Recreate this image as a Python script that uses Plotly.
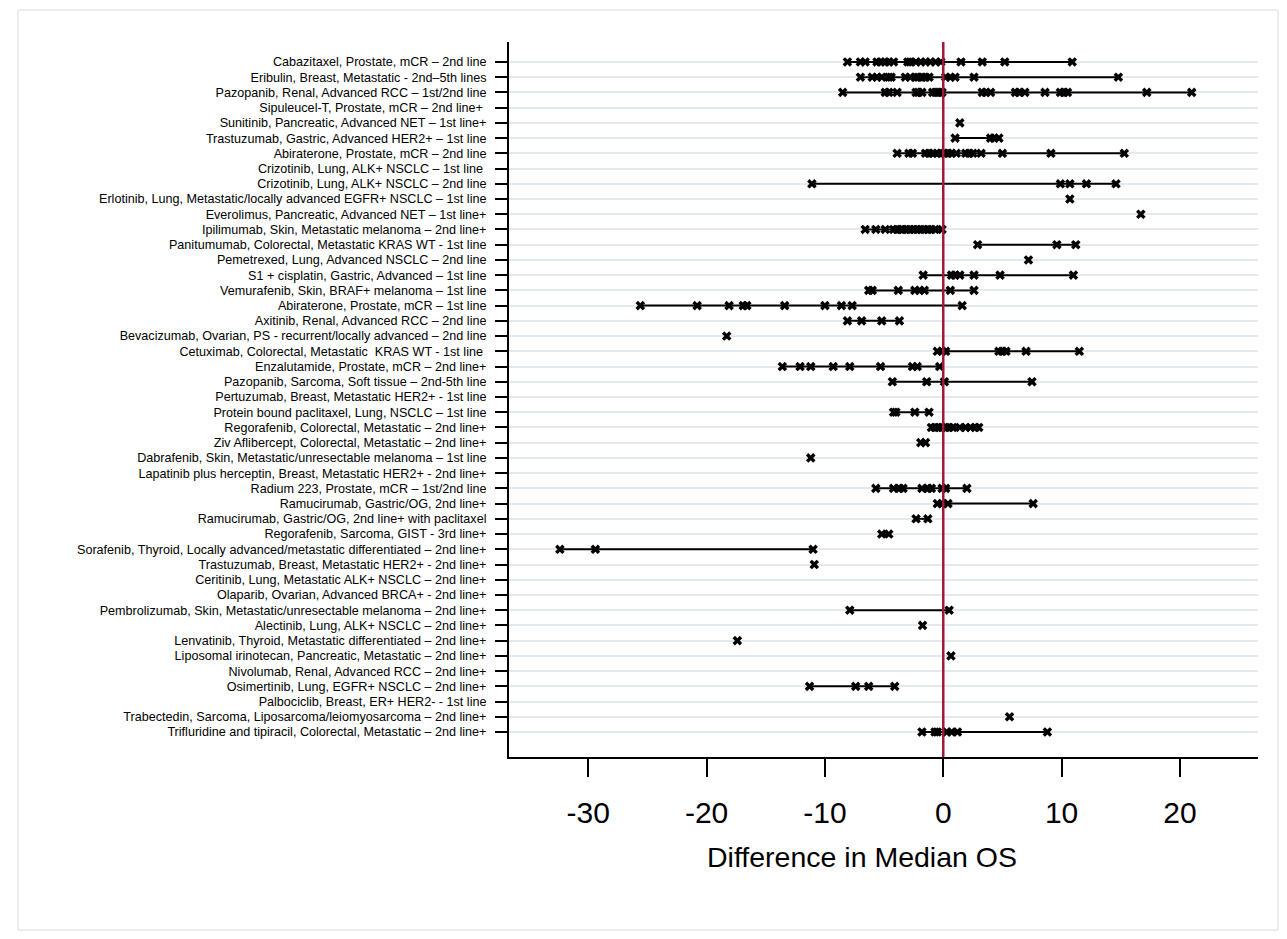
import plotly.graph_objects as go

treatments = [
    "Cabazitaxel, Prostate, mCR – 2nd line",
    "Eribulin, Breast, Metastatic - 2nd–5th lines",
    "Pazopanib, Renal, Advanced RCC – 1st/2nd line",
    "Sipuleucel-T, Prostate, mCR – 2nd line+ ",
    "Sunitinib, Pancreatic, Advanced NET – 1st line+",
    "Trastuzumab, Gastric, Advanced HER2+ – 1st line",
    "Abiraterone, Prostate, mCR – 2nd line",
    "Crizotinib, Lung, ALK+ NSCLC – 1st line ",
    "Crizotinib, Lung, ALK+ NSCLC – 2nd line",
    "Erlotinib, Lung, Metastatic/locally advanced EGFR+ NSCLC – 1st line",
    "Everolimus, Pancreatic, Advanced NET – 1st line+",
    "Ipilimumab, Skin, Metastatic melanoma – 2nd line+",
    "Panitumumab, Colorectal, Metastatic KRAS WT - 1st line",
    "Pemetrexed, Lung, Advanced NSCLC – 2nd line",
    "S1 + cisplatin, Gastric, Advanced – 1st line",
    "Vemurafenib, Skin, BRAF+ melanoma – 1st line",
    "Abiraterone, Prostate, mCR – 1st line",
    "Axitinib, Renal, Advanced RCC – 2nd line",
    "Bevacizumab, Ovarian, PS - recurrent/locally advanced – 2nd line",
    "Cetuximab, Colorectal, Metastatic  KRAS WT - 1st line ",
    "Enzalutamide, Prostate, mCR – 2nd line+",
    "Pazopanib, Sarcoma, Soft tissue – 2nd-5th line",
    "Pertuzumab, Breast, Metastatic HER2+ - 1st line",
    "Protein bound paclitaxel, Lung, NSCLC – 1st line",
    "Regorafenib, Colorectal, Metastatic – 2nd line+",
    "Ziv Aflibercept, Colorectal, Metastatic – 2nd line+",
    "Dabrafenib, Skin, Metastatic/unresectable melanoma – 1st line",
    "Lapatinib plus herceptin, Breast, Metastatic HER2+ - 2nd line+",
    "Radium 223, Prostate, mCR – 1st/2nd line",
    "Ramucirumab, Gastric/OG, 2nd line+",
    "Ramucirumab, Gastric/OG, 2nd line+ with paclitaxel",
    "Regorafenib, Sarcoma, GIST - 3rd line+",
    "Sorafenib, Thyroid, Locally advanced/metastatic differentiated – 2nd line+",
    "Trastuzumab, Breast, Metastatic HER2+ - 2nd line+",
    "Ceritinib, Lung, Metastatic ALK+ NSCLC – 2nd line+",
    "Olaparib, Ovarian, Advanced BRCA+ - 2nd line+",
    "Pembrolizumab, Skin, Metastatic/unresectable melanoma – 2nd line+",
    "Alectinib, Lung, ALK+ NSCLC – 2nd line+",
    "Lenvatinib, Thyroid, Metastatic differentiated – 2nd line+",
    "Liposomal irinotecan, Pancreatic, Metastatic – 2nd line+",
    "Nivolumab, Renal, Advanced RCC – 2nd line+",
    "Osimertinib, Lung, EGFR+ NSCLC – 2nd line+",
    "Palbociclib, Breast, ER+ HER2- - 1st line",
    "Trabectedin, Sarcoma, Liposarcoma/leiomyosarcoma – 2nd line+",
    "Trifluridine and tipiracil, Colorectal, Metastatic – 2nd line+",
]

median_os_differences = [
    [-8.1, -7.0, -6.6, -5.6, -5.3, -4.9, -4.6, -4.2, -3.0, -2.8, -2.3, -1.9, -1.5, -1.1, -0.65, -0.2, 1.5, 3.3, 5.2, 10.9],
    [-7.0, -6.0, -5.6, -5.2, -4.6, -4.4, -3.2, -2.8, -2.3, -2.1, -1.8, -1.5, -1.2, 0.2, 0.6, 1.0, 2.6, 14.8],
    [-8.5, -4.9, -4.6, -3.9, -2.3, -2.1, -1.8, -0.9, -0.65, -0.4, -0.1, 3.3, 3.6, 4.0, 6.1, 6.4, 6.9, 8.6, 9.9, 10.2, 10.5, 17.2, 21.0],
    [],
    [1.4],
    [1.0, 4.0, 4.3, 4.7],
    [-3.9, -2.9, -2.6, -1.5, -1.2, -0.9, -0.5, -0.2, 0.1, 0.4, 0.7, 1.1, 1.9, 2.2, 2.5, 3.2, 5.0, 9.1, 15.3],
    [],
    [-11.1, 9.9, 10.7, 12.1, 14.6],
    [10.7],
    [16.7],
    [-6.6, -5.7, -4.9, -4.2, -3.9, -3.6, -3.4, -3.1, -2.8, -2.5, -2.2, -1.9, -1.6, -1.3, -1.0, -0.7, -0.1],
    [2.9, 9.6, 11.2],
    [7.2],
    [-1.7, 0.7, 1.0, 1.4, 2.6, 4.8, 11.0],
    [-6.3, -6.0, -3.8, -2.4, -2.0, -1.6, 0.6, 2.6],
    [-25.6, -20.8, -18.1, -16.9, -16.6, -13.4, -10.0, -8.6, -7.7, 1.6],
    [-8.1, -6.9, -5.2, -3.7],
    [-18.3],
    [-0.5, -0.1, 0.2, 4.7, 5.0, 5.3, 7.0, 11.5],
    [-13.6, -12.1, -11.2, -9.3, -7.9, -5.3, -2.6, -2.2, -0.3],
    [-4.3, -1.4, 0.1, 7.5],
    [],
    [-4.2, -4.0, -2.4, -1.2],
    [-1.0, -0.7, -0.4, -0.1, 0.2, 0.5, 0.8, 1.4, 1.9, 2.3, 2.7, 3.0],
    [-1.9, -1.5],
    [-11.2],
    [],
    [-5.7, -4.2, -3.7, -3.4, -1.8, -1.3, -1.0, -0.1, 0.2, 2.0],
    [-0.5, -0.1, 0.4, 7.6],
    [-2.3, -1.3],
    [-5.2, -4.6],
    [-32.4, -29.4, -11.0],
    [-10.9],
    [],
    [],
    [-7.9, 0.5],
    [-1.75],
    [-17.4],
    [0.65],
    [],
    [-11.3, -7.4, -6.3, -4.1],
    [],
    [5.6],
    [-1.8, -0.7, -0.5, 0.3, 0.7, 1.2, 8.8],
]

x_tick_values = [-30, -20, -10, 0, 10, 20]
x_title = "Difference in Median OS"

FONT = "Liberation Sans, Arial, sans-serif"

row_pos = list(range(1, len(treatments) + 1))

# range lines
lx, ly = [], []
for pos, vals in zip(row_pos, median_os_differences):
    if len(vals) >= 2:
        lx += [min(vals), max(vals), None]
        ly += [pos, pos, None]

mx, my = [], []
for pos, vals in zip(row_pos, median_os_differences):
    for v in vals:
        mx.append(v)
        my.append(pos)

fig = go.Figure()
fig.add_trace(go.Scatter(x=lx, y=ly, mode="lines",
                         line=dict(color="black", width=2), hoverinfo="skip",
                         showlegend=False))
fig.add_trace(go.Scatter(x=mx, y=my, mode="markers",
                         marker=dict(symbol="x", size=8.5, color="black",
                                     line=dict(width=0)),
                         showlegend=False))

# zero reference line
fig.add_shape(type="line", xref="x", yref="paper", x0=0, x1=0, y0=0, y1=1,
              line=dict(color="#9e1a35", width=2.5), layer="above")

# outer frame
fig.add_shape(type="rect", xref="paper", yref="paper",
              x0=-0.6555, x1=1.0267, y0=-0.242, y1=1.0448,
              line=dict(color="#dcdcdc", width=1), fillcolor="rgba(0,0,0,0)")

fig.add_annotation(text=x_title, xref="paper", yref="paper",
                   x=(862 - 509) / 749, y=-(857 - 757) / 715,
                   xanchor="center", yanchor="middle", showarrow=False,
                   font=dict(family=FONT, size=28.5, color="black"))

fig.update_xaxes(range=[-36.7, 26.6], tickvals=x_tick_values,
                 ticktext=[str(v) for v in x_tick_values],
                 showgrid=False, zeroline=False, showline=True,
                 linecolor="black", linewidth=2, ticks="outside",
                 ticklen=18, tickwidth=2, tickcolor="black",
                 ticklabelstandoff=10,
                 tickfont=dict(family=FONT, size=30, color="black"))
fig.update_yaxes(range=[46.64, -0.31], tickvals=row_pos, ticktext=treatments,
                 showgrid=True, gridcolor="#e3eaef", gridwidth=2,
                 zeroline=False, showline=True, linecolor="black", linewidth=2,
                 ticks="outside", ticklen=12, tickwidth=2, tickcolor="black",
                 ticklabelstandoff=6,
                 tickfont=dict(family=FONT, size=12.6, color="black"))

# page has an 8px body margin; compensate so the plot lands where intended
fig.update_layout(width=1287, height=939,
                  margin=dict(l=501, r=37, t=34, b=190),
                  plot_bgcolor="white", paper_bgcolor="white",
                  showlegend=False)

fig.write_html("out.html")
